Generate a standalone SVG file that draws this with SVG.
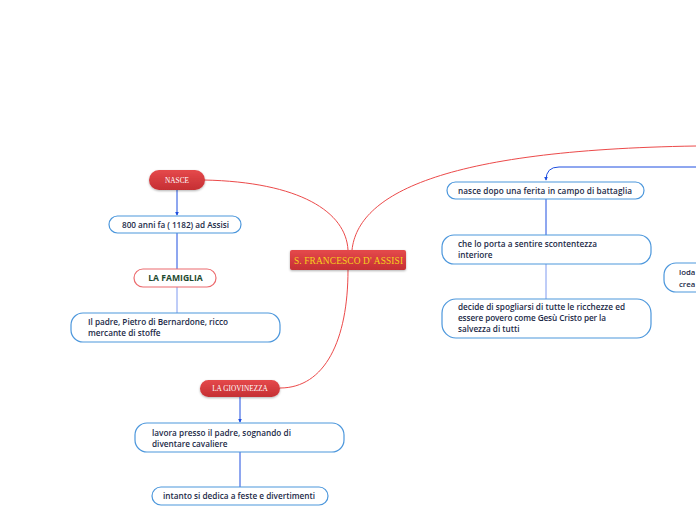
<svg xmlns="http://www.w3.org/2000/svg" width="696" height="520" viewBox="0 0 696 520">
<defs>
<linearGradient id="red" x1="0" y1="0" x2="0" y2="1">
<stop offset="0" stop-color="#e5494b"/>
<stop offset="1" stop-color="#c52f33"/>
</linearGradient>
<filter id="sh" x="-20%" y="-30%" width="140%" height="170%">
<feDropShadow dx="0" dy="1" stdDeviation="0.8" flood-color="#000" flood-opacity="0.3"/>
</filter>
<marker id="arr" viewBox="0 0 6 6" refX="5" refY="3" markerWidth="4" markerHeight="4" orient="auto">
<path d="M0,0 L6,3 L0,6 z" fill="#1f4fe0"/>
</marker>
<style>
.red{fill:url(#red);filter:url(#sh)}
.rt{font-family:"Liberation Serif",serif;font-size:7.3px;fill:#ffffff;text-anchor:middle}
.box{fill:#ffffff;stroke:#4c97dc;stroke-width:1.2}
.t{font-family:"Open Sans","Noto Sans",sans-serif;font-weight:600;font-size:8.2px;fill:#1c2a48}
.rc{fill:none;stroke:#ec4a4a;stroke-width:1}
.bc{fill:none;stroke:#1f4fe0;stroke-width:1}
.lc{fill:none;stroke:#7f9af0;stroke-width:1}
</style>
</defs>
<g id="connectors">
<path class="rc" d="M204,180 C300,182 346,212 348,250"/>
<path class="rc" d="M352,250 C358,195 440,150 696,146"/>
<path class="rc" d="M348,270 C348,340 325,388 280,388"/>
<path class="bc" d="M177,190 L177,215" marker-end="url(#arr)"/>
<path class="bc" d="M177,233 L177,269"/>
<path class="lc" d="M177,287 L177,313"/>
<path class="bc" d="M240,397 L240,422" marker-end="url(#arr)"/>
<path class="bc" d="M240,452 L240,487"/>
<path class="bc" d="M696,167 L559,167 Q546,167 546,180" marker-end="url(#arr)"/>
<path class="bc" d="M546,199 L546,235"/>
<path class="lc" d="M546,264 L546,299"/>
</g>
<g id="center">
<rect class="red" x="290" y="250" width="116" height="20" rx="2"/>
<text class="rt" x="348.5" y="263.5" style="fill:#f6d21a;font-size:9.4px" textLength="109" lengthAdjust="spacing">S. FRANCESCO D' ASSISI</text>
</g>
<g id="nasce">
<rect class="red" x="149" y="170" width="56" height="20" rx="10"/>
<text class="rt" x="177" y="182.5">NASCE</text>
</g>
<g id="anni">
<rect class="box" x="109" y="216" width="132" height="17" rx="8.5"/>
<text class="t" x="122" y="227.5" textLength="107" lengthAdjust="spacing">800 anni fa ( 1182) ad Assisi</text>
</g>
<g id="famiglia">
<rect x="134" y="269" width="82" height="18" rx="9" fill="#ffffff" stroke="#ec6b6e" stroke-width="1.2"/>
<text class="t" x="175.5" y="281" text-anchor="middle" style="fill:#1d4a30;font-weight:700;font-size:8.6px">LA FAMIGLIA</text>
</g>
<g id="padre">
<rect class="box" x="71" y="313" width="209" height="29" rx="12"/>
<text class="t" x="88" y="324.5" textLength="140" lengthAdjust="spacing">Il padre, Pietro di Bernardone, ricco</text>
<text class="t" x="88" y="335.5">mercante di stoffe</text>
</g>
<g id="giovinezza">
<rect class="red" x="200" y="380" width="80" height="17" rx="8.5"/>
<text class="rt" x="240" y="391">LA GIOVINEZZA</text>
</g>
<g id="lavora">
<rect class="box" x="135" y="423" width="209" height="29" rx="12"/>
<text class="t" x="152" y="435.5" textLength="139" lengthAdjust="spacing">lavora presso il padre, sognando di</text>
<text class="t" x="152" y="446.5">diventare cavaliere</text>
</g>
<g id="intanto">
<rect class="box" x="152" y="487" width="176" height="18" rx="9"/>
<text class="t" x="163" y="499" textLength="152" lengthAdjust="spacing">intanto si dedica a feste e divertimenti</text>
</g>
<g id="ferita">
<rect class="box" x="447" y="182" width="197" height="17" rx="8.5"/>
<text class="t" x="458" y="193.5" textLength="174" lengthAdjust="spacing">nasce dopo una ferita in campo di battaglia</text>
</g>
<g id="porta">
<rect class="box" x="442" y="235" width="209" height="29" rx="12"/>
<text class="t" x="458" y="246.5" textLength="139" lengthAdjust="spacing">che lo porta a sentire scontentezza</text>
<text class="t" x="458" y="257.5">interiore</text>
</g>
<g id="decide">
<rect class="box" x="442" y="299" width="209" height="39" rx="14"/>
<text class="t" x="458" y="310" textLength="167" lengthAdjust="spacing">decide di spogliarsi di tutte le ricchezze ed</text>
<text class="t" x="458" y="321" textLength="148" lengthAdjust="spacing">essere povero come Gesù Cristo per la</text>
<text class="t" x="458" y="332">salvezza di tutti</text>
</g>
<g id="loda">
<rect class="box" x="664" y="263" width="60" height="29" rx="12"/>
<text class="t" x="679" y="275" style="font-size:7.8px">loda</text>
<text class="t" x="679" y="287" style="font-size:7.8px">crea</text>
</g>
</svg>
